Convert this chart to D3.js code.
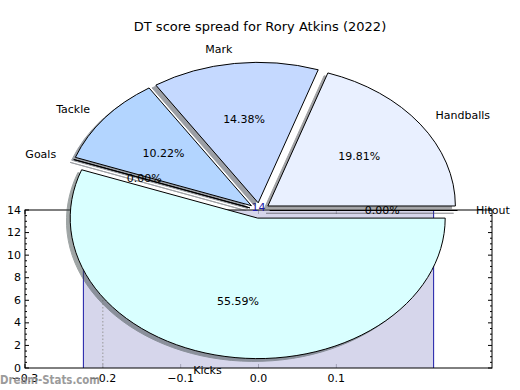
<!DOCTYPE html>
<html>
<head>
<meta charset="utf-8">
<script src="https://cdn.jsdelivr.net/npm/d3@7"></script>
<style>
  body { margin: 0; background: #fff; }
  text { font-family: "DejaVu Sans", sans-serif; }
</style>
</head>
<body>
<svg id="chart" width="520" height="390"></svg>
<script>
// pie data (share of DT score, %)
const categories = ["Handballs", "Mark", "Tackle", "Goals", "Kicks", "Hitout"];
const shares = [19.81, 14.38, 10.22, 0, 55.59, 0];
const sliceColors = ["#e9f0ff", "#c5d9ff", "#b3d5ff", "#cfe4ff", "#d9ffff", "#f0f0ff"];

// the stray axes underneath
const barExtent = [-0.225, 0.225];
const barHeight = 14;
const markerX = -0.2;
const xTicks = [-0.3, -0.2, -0.1, 0.0, 0.1];
const yTicks = [0, 2, 4, 6, 8, 10, 12, 14];

const svg = d3.select("#chart");

const x = d3.scaleLinear().domain([-0.3, 0.3]).range([25, 492]);
const y = d3.scaleLinear().domain([0, 14]).range([368, 210]);

const axes = svg.append("g");

// ticks (inward, both sides)
const minor = d3.range(0, 14.01, 0.5).filter((v) => v % 2 !== 0);
axes.selectAll(".ytick").data(yTicks).enter().append("path")
  .attr("d", (d) => `M25,${y(d)}h4M492,${y(d)}h-4`)
  .attr("stroke", "#000");
axes.selectAll(".yminor").data(minor).enter().append("path")
  .attr("d", (d) => `M25,${y(d)}h2M492,${y(d)}h-2`)
  .attr("stroke", "#000");
axes.selectAll(".xtick").data(xTicks).enter().append("path")
  .attr("d", (d) => `M${x(d)},368v-4M${x(d)},210v4`)
  .attr("stroke", "#000");

// filled band
axes.append("rect")
  .attr("x", x(barExtent[0]))
  .attr("y", y(barHeight))
  .attr("width", x(barExtent[1]) - x(barExtent[0]))
  .attr("height", y(0) - y(barHeight))
  .attr("fill", "#ccccE6")
  .attr("opacity", 0.8);

axes.selectAll(".edge").data(barExtent).enter().append("line")
  .attr("x1", (d) => x(d)).attr("x2", (d) => x(d))
  .attr("y1", y(0)).attr("y2", y(barHeight))
  .attr("stroke", "#1a1aa6");

axes.append("line")
  .attr("x1", x(markerX)).attr("x2", x(markerX))
  .attr("y1", y(0)).attr("y2", y(barHeight))
  .attr("stroke", "#999")
  .attr("stroke-dasharray", "1.5,2");

axes.append("rect")
  .attr("x", 25).attr("y", 210).attr("width", 467).attr("height", 158)
  .attr("fill", "none").attr("stroke", "#000");

axes.selectAll(".ylab").data(yTicks).enter().append("text")
  .attr("x", 21).attr("y", (d) => y(d))
  .attr("text-anchor", "end").attr("dominant-baseline", "central")
  .attr("font-size", 11).text((d) => d);

axes.selectAll(".xlab").data(xTicks).enter().append("text")
  .attr("x", (d) => x(d)).attr("y", 378)
  .attr("text-anchor", "middle").attr("dominant-baseline", "central")
  .attr("font-size", 11)
  .text((d) => d3.format(".1f")(d).replace("-", "\u2212"));

axes.append("text")
  .attr("x", x(0)).attr("y", y(barHeight) + 1)
  .attr("text-anchor", "middle")
  .attr("font-size", 11).attr("fill", "#1a1aa6")
  .text(barHeight);

// pie, matplotlib style: ccw from 3 o'clock, exploded, with shadow
const cx = 259.5, cy = 210.5, rx = 187.5, ry = 140.5, explode = 0.055;
const pie = d3.pie().sort(null)
  .startAngle(Math.PI / 2).endAngle(Math.PI / 2 - 2 * Math.PI);
const arcs = pie(shares);
const total = d3.sum(shares);
const arc = d3.arc().innerRadius(0).outerRadius(1);

const dir = (d) => {
  const a = (d.startAngle + d.endAngle) / 2;
  return [Math.sin(a), -Math.cos(a)];
};
const apex = (d) => {
  const [ux, uy] = dir(d);
  return [cx + explode * rx * ux, cy + explode * ry * uy];
};

const pieG = svg.append("g");

// shadows first, all below the wedges
pieG.selectAll(".shadow").data(arcs).enter().append("path")
  .attr("d", arc)
  .attr("transform", (d) => {
    const [px, py] = apex(d);
    return `translate(${px - 0.02 * rx},${py + 0.02 * ry}) scale(${rx},${ry})`;
  })
  .attr("fill", (d, i) => {
    const c = d3.rgb(sliceColors[i]);
    return d3.rgb(c.r * 0.3, c.g * 0.3, c.b * 0.3);
  })
  .attr("stroke", (d, i) => {
    const c = d3.rgb(sliceColors[i]);
    return d3.rgb(c.r * 0.3, c.g * 0.3, c.b * 0.3);
  })
  .attr("vector-effect", "non-scaling-stroke")
  .attr("opacity", 0.5);

pieG.selectAll(".wedge").data(arcs).enter().append("path")
  .attr("d", arc)
  .attr("transform", (d) => {
    const [px, py] = apex(d);
    return `translate(${px},${py}) scale(${rx},${ry})`;
  })
  .attr("fill", (d, i) => sliceColors[i])
  .attr("stroke", "#000")
  .attr("stroke-width", 1)
  .attr("vector-effect", "non-scaling-stroke");

// category labels at 1.1 r
pieG.selectAll(".lab").data(arcs).enter().append("text")
  .attr("x", (d) => apex(d)[0] + 1.1 * rx * dir(d)[0])
  .attr("y", (d) => apex(d)[1] + 1.1 * ry * dir(d)[1])
  .attr("text-anchor", (d) => (dir(d)[0] > 0 ? "start" : "end"))
  .attr("dominant-baseline", "central")
  .attr("font-size", 11)
  .text((d, i) => categories[i]);

// percentages at 0.6 r
pieG.selectAll(".pct").data(arcs).enter().append("text")
  .attr("x", (d) => apex(d)[0] + 0.6 * rx * dir(d)[0])
  .attr("y", (d) => apex(d)[1] + 0.6 * ry * dir(d)[1])
  .attr("text-anchor", "middle")
  .attr("dominant-baseline", "central")
  .attr("font-size", 11)
  .text((d) => ((d.value / total) * 100).toFixed(2) + "%");

svg.append("text")
  .attr("x", 260).attr("y", 26)
  .attr("text-anchor", "middle").attr("dominant-baseline", "central")
  .attr("font-size", 13)
  .text("DT score spread for Rory Atkins (2022)");

svg.append("text")
  .attr("x", 0).attr("y", 384)
  .attr("font-family", "'Open Sans', sans-serif")
  .attr("font-weight", 700).attr("font-size", 12)
  .attr("textLength", 100).attr("lengthAdjust", "spacingAndGlyphs")
  .attr("fill", "#8a8a8a").attr("opacity", 0.85)
  .text("Dream-Stats.com");
</script>
</body>
</html>
